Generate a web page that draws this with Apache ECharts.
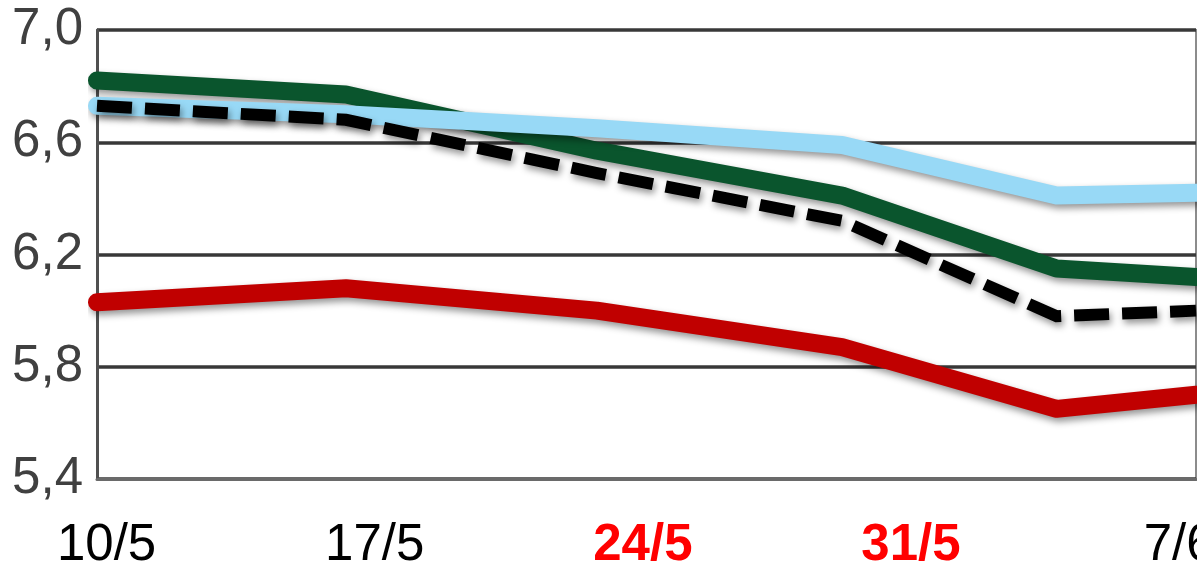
<!DOCTYPE html>
<html>
<head>
<meta charset="utf-8">
<script src="https://cdn.jsdelivr.net/npm/echarts@6/dist/echarts.min.js"></script>
<style>
html,body{margin:0;padding:0;background:#ffffff;}
#chart{width:1197px;height:571px;}
</style>
</head>
<body>
<div id="chart"></div>
<script>
// x values: days counted from 10/5
const dayOffsets = [-0.25, 6.25, 12.8, 19.2, 24.8, 28.44];
const greenValues = [6.82, 6.77, 6.57, 6.41, 6.15, 6.12];
const lightBlueValues = [6.73, 6.70, 6.65, 6.59, 6.41, 6.42];
const blackValues = [6.73, 6.68, 6.49, 6.32, 5.98, 6.00];
const redValues = [6.03, 6.08, 6.00, 5.87, 5.65, 5.70];

const tickDays = [0, 7, 14, 21, 28];
const tickLabels = ['10/5', '17/5', '24/5', '31/5', '7/6'];
const highlightedLabels = ['24/5', '31/5'];

const yMin = 5.4, yMax = 7.0, yStep = 0.4;

const FONT = "'Liberation Sans', Arial, Helvetica, sans-serif";

function pairs(vals) {
  return vals.map((v, i) => [dayOffsets[i], v]);
}

const shadow = {
  shadowColor: 'rgba(0,0,0,0.42)',
  shadowBlur: 7,
  shadowOffsetX: 2,
  shadowOffsetY: 4
};

function lineSeries(name, vals, style) {
  return {
    name: name,
    type: 'line',
    data: pairs(vals),
    showSymbol: false,
    symbol: 'none',
    clip: false,
    smooth: false,
    z: 3,
    lineStyle: Object.assign({}, shadow, style)
  };
}

const chart = echarts.init(document.getElementById('chart'), null, {renderer: 'canvas'});

chart.setOption({
  animation: false,
  backgroundColor: '#ffffff',
  grid: {
    left: 97, top: 30, right: 1, bottom: 92,
    containLabel: false,
    outerBoundsMode: 'none',
    show: true,
    borderColor: '#8c8c8c',
    borderWidth: 2,
    backgroundColor: 'transparent'
  },
  xAxis: {
    type: 'value',
    min: dayOffsets[0],
    max: dayOffsets[dayOffsets.length - 1],
    axisLine: {show: true, onZero: false, lineStyle: {color: '#6a6a6a', width: 3}},
    axisTick: {show: false},
    splitLine: {show: false},
    axisLabel: {
      customValues: tickDays,
      margin: 41,
      fontSize: 51,
      fontFamily: FONT,
      color: '#000000',
      hideOverlap: false,
      formatter: function (v) {
        const idx = tickDays.indexOf(Math.round(v));
        const t = idx >= 0 ? tickLabels[idx] : '';
        return highlightedLabels.indexOf(t) >= 0 ? '{r|' + t + '}' : '{n|' + t + '}';
      },
      rich: {
        n: {color: '#000000', fontSize: 51, fontFamily: FONT},
        r: {color: '#FF0000', fontSize: 51, fontFamily: FONT, fontWeight: 'bold'}
      }
    }
  },
  yAxis: {
    type: 'value',
    min: yMin,
    max: yMax,
    interval: yStep,
    axisLine: {show: true, onZero: false, lineStyle: {color: '#505050', width: 3}},
    axisTick: {show: false},
    splitLine: {show: true, lineStyle: {color: '#383838', width: 3.5}},
    axisLabel: {
      margin: 14,
      fontSize: 51,
      fontFamily: FONT,
      color: '#404040',
      padding: [0, 0, 6, 0],
      formatter: function (v) { return v.toFixed(1).replace('.', ','); }
    }
  },
  series: [
    lineSeries('Rød', redValues, {color: '#C00000', width: 18, cap: 'round', join: 'round'}),
    lineSeries('Grøn', greenValues, {color: '#0A552D', width: 18, cap: 'round', join: 'round'}),
    lineSeries('Lyseblå', lightBlueValues, {color: '#98D9F6', width: 18, cap: 'round', join: 'round'}),
    lineSeries('Sort', blackValues, {color: '#000000', width: 12, type: [35, 13], cap: 'butt', join: 'miter'})
  ]
});
</script>
</body>
</html>
